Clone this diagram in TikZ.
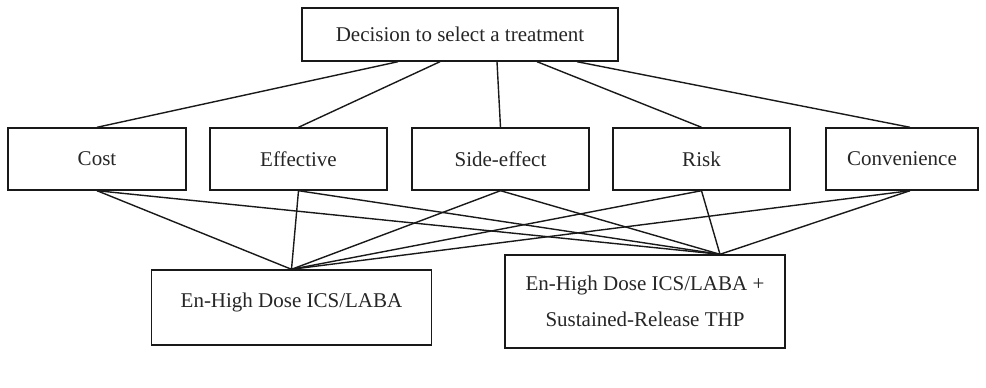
\documentclass[tikz,border=0pt]{standalone}
\usepackage{fontspec}
\setmainfont{Liberation Serif}
\begin{document}
\begin{tikzpicture}[x=1pt,y=-1pt,
  box/.style={draw=black!90,line width=1.4pt,inner sep=0pt,align=center,
    font=\fontsize{21}{36}\selectfont,text=black!85},
  crit/.style={box,minimum width=177pt,minimum height=62pt},
  alt/.style={box,minimum width=280pt},
  link/.style={draw=black!90,line width=1.4pt}]
\useasboundingbox (0,0) rectangle (986,388);
% goal
\node[box,minimum width=316pt,minimum height=53pt] (goal) at (460,34.5) {Decision to select a treatment};
% criteria
\node[crit,minimum width=178pt] (cost) at (97,159) {Cost};
\node[crit] (eff) at (298.5,159) {Effective};
\node[crit] (side) at (500.5,159) {Side-effect};
\node[crit] (risk) at (701.5,159) {Risk};
\node[crit,minimum width=152pt] (conv) at (902,159) {Convenience};
% alternatives
\node[alt,minimum height=75pt,text depth=14pt] (altA) at (291.5,307.5) {En-High Dose ICS/LABA};
\node[alt,minimum height=93pt] (altB) at (645,301.5) {En-High Dose ICS/LABA +\\Sustained-Release THP};
\coordinate (apexB) at ([xshift=75pt]altB.north);
% goal to criteria
\draw[link] ([xshift=-62pt]goal.south) -- (cost.north);
\draw[link] ([xshift=-20pt]goal.south) -- (eff.north);
\draw[link] ([xshift=37pt]goal.south) -- (side.north);
\draw[link] ([xshift=77pt]goal.south) -- (risk.north);
\draw[link] ([xshift=117pt]goal.south) -- ([xshift=8pt]conv.north);
% criteria to alternatives
\foreach \c in {cost,eff,side,risk}{
  \draw[link] (\c.south) -- (altA.north);
  \draw[link] (\c.south) -- (apexB);
}
\draw[link] ([xshift=8pt]conv.south) -- (altA.north);
\draw[link] ([xshift=8pt]conv.south) -- (apexB);
\end{tikzpicture}
\end{document}
